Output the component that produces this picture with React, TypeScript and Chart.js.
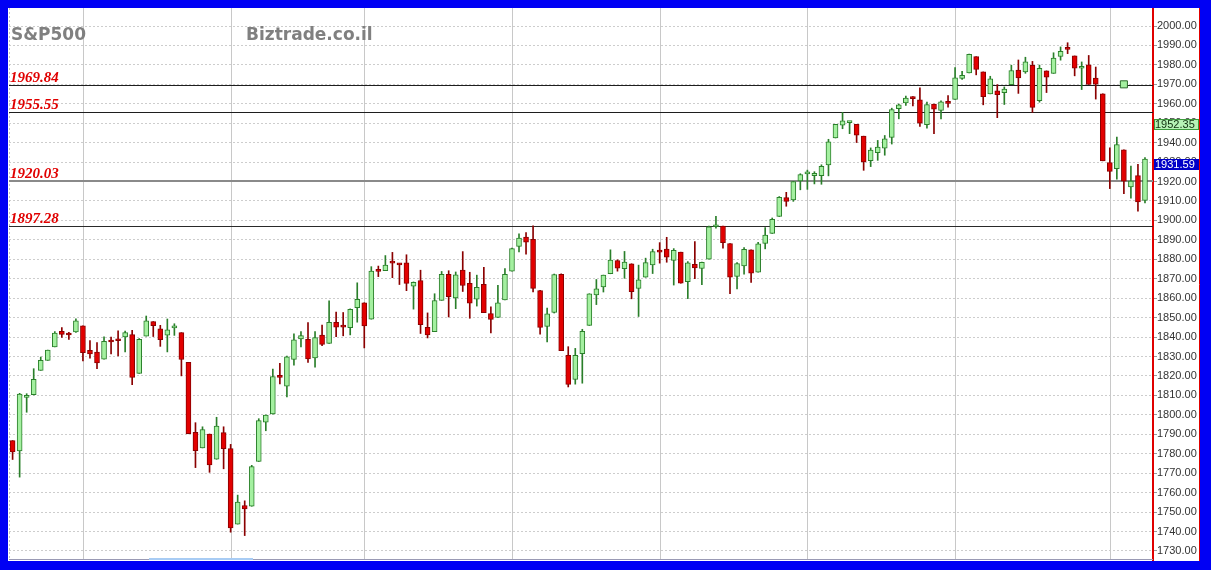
import React, { useEffect, useRef } from "react";
import { Chart, registerables } from "chart.js";

Chart.register(...registerables);

// ---- DATA (S&P500 daily candles) ----
const dates = [
  "2013-12-17","2013-12-18","2013-12-19","2013-12-20","2013-12-23","2013-12-24","2013-12-26","2013-12-27","2013-12-30","2013-12-31",
  "2014-01-02","2014-01-03","2014-01-06","2014-01-07","2014-01-08","2014-01-09","2014-01-10","2014-01-13","2014-01-14","2014-01-15","2014-01-16","2014-01-17","2014-01-21","2014-01-22","2014-01-23","2014-01-24","2014-01-27","2014-01-28","2014-01-29","2014-01-30","2014-01-31",
  "2014-02-03","2014-02-04","2014-02-05","2014-02-06","2014-02-07","2014-02-10","2014-02-11","2014-02-12","2014-02-13","2014-02-14","2014-02-18","2014-02-19","2014-02-20","2014-02-21","2014-02-24","2014-02-25","2014-02-26","2014-02-27","2014-02-28",
  "2014-03-03","2014-03-04","2014-03-05","2014-03-06","2014-03-07","2014-03-10","2014-03-11","2014-03-12","2014-03-13","2014-03-14","2014-03-17","2014-03-18","2014-03-19","2014-03-20","2014-03-21","2014-03-24","2014-03-25","2014-03-26","2014-03-27","2014-03-28","2014-03-31",
  "2014-04-01","2014-04-02","2014-04-03","2014-04-04","2014-04-07","2014-04-08","2014-04-09","2014-04-10","2014-04-11","2014-04-14","2014-04-15","2014-04-16","2014-04-17","2014-04-21","2014-04-22","2014-04-23","2014-04-24","2014-04-25","2014-04-28","2014-04-29","2014-04-30",
  "2014-05-01","2014-05-02","2014-05-05","2014-05-06","2014-05-07","2014-05-08","2014-05-09","2014-05-12","2014-05-13","2014-05-14","2014-05-15","2014-05-16","2014-05-19","2014-05-20","2014-05-21","2014-05-22","2014-05-23","2014-05-27","2014-05-28","2014-05-29","2014-05-30",
  "2014-06-02","2014-06-03","2014-06-04","2014-06-05","2014-06-06","2014-06-09","2014-06-10","2014-06-11","2014-06-12","2014-06-13","2014-06-16","2014-06-17","2014-06-18","2014-06-19","2014-06-20","2014-06-23","2014-06-24","2014-06-25","2014-06-26","2014-06-27","2014-06-30",
  "2014-07-01","2014-07-02","2014-07-03","2014-07-07","2014-07-08","2014-07-09","2014-07-10","2014-07-11","2014-07-14","2014-07-15","2014-07-16","2014-07-17","2014-07-18","2014-07-21","2014-07-22","2014-07-23","2014-07-24","2014-07-25","2014-07-28","2014-07-29","2014-07-30","2014-07-31",
  "2014-08-01","2014-08-04","2014-08-05","2014-08-06","2014-08-07","2014-08-08"
];

const opens = [
  1786.77,1781.46,1809.00,1810.39,1822.92,1828.02,1834.96,1842.97,1841.47,1842.61,
  1845.86,1833.21,1832.31,1828.71,1837.90,1839.00,1840.06,1841.26,1821.36,1840.52,1847.99,1844.23,1841.05,1844.71,1842.29,1826.96,1791.03,1783.00,1790.15,1777.17,1790.88,
  1782.68,1743.82,1753.38,1752.99,1776.01,1796.20,1800.45,1820.12,1814.82,1828.46,1839.03,1838.90,1829.24,1841.07,1836.78,1847.66,1845.79,1844.90,1855.12,
  1857.68,1849.23,1874.05,1874.18,1878.52,1877.86,1878.26,1866.15,1869.06,1845.07,1842.81,1858.92,1872.25,1860.09,1874.53,1867.67,1859.48,1867.09,1852.11,1850.07,1859.16,
  1873.96,1886.61,1891.43,1890.25,1863.92,1845.48,1852.64,1872.28,1830.65,1818.18,1831.45,1846.01,1861.73,1865.79,1872.57,1879.32,1875.24,1877.72,1865.00,1870.78,1877.10,
  1884.39,1885.30,1879.45,1883.69,1868.53,1877.39,1875.27,1880.03,1896.75,1897.13,1888.16,1871.19,1876.66,1884.88,1873.34,1888.19,1893.32,1902.01,1911.77,1910.60,1920.33,
  1923.87,1923.07,1923.06,1928.52,1942.41,1948.97,1950.34,1949.37,1943.35,1930.80,1934.84,1937.15,1942.73,1957.50,1960.45,1962.92,1961.97,1949.27,1959.89,1956.56,1960.79,
  1962.29,1973.06,1975.88,1984.22,1976.39,1965.10,1966.67,1965.76,1969.86,1977.36,1976.35,1979.75,1961.54,1976.93,1975.65,1984.30,1988.07,1984.60,1978.25,1980.03,1973.21,1965.14,
  1929.80,1926.62,1936.34,1917.29,1923.03,1910.35
];

const highs = [
  1786.77,1811.08,1810.88,1823.75,1829.75,1833.32,1842.84,1844.89,1842.47,1849.44,
  1845.86,1838.24,1837.16,1840.10,1840.02,1843.23,1843.15,1843.45,1839.26,1850.84,1847.99,1846.04,1849.31,1846.87,1842.29,1826.96,1795.98,1793.87,1790.15,1798.77,1793.88,
  1784.83,1758.73,1755.79,1774.06,1798.03,1799.94,1823.54,1826.55,1830.25,1841.65,1842.87,1847.50,1842.79,1846.13,1858.71,1852.91,1852.65,1854.53,1867.92,
  1857.68,1876.23,1876.53,1881.94,1883.57,1877.87,1882.35,1868.38,1874.40,1852.44,1862.30,1873.76,1874.14,1873.49,1883.97,1873.34,1871.87,1875.92,1855.55,1866.63,1875.18,
  1885.84,1893.17,1893.80,1897.28,1864.04,1854.95,1872.43,1872.53,1835.07,1834.19,1844.02,1862.31,1869.63,1871.89,1884.89,1879.75,1884.06,1877.72,1877.01,1880.60,1885.20,
  1888.59,1891.33,1885.51,1883.69,1878.83,1889.07,1878.57,1897.13,1902.17,1897.13,1888.16,1878.28,1886.00,1884.88,1888.80,1896.33,1901.26,1912.28,1914.46,1920.03,1924.03,
  1925.88,1925.07,1928.63,1941.74,1949.44,1955.55,1950.86,1949.37,1943.35,1937.30,1941.15,1943.69,1957.74,1959.87,1963.91,1963.74,1968.17,1960.83,1959.89,1961.47,1964.24,
  1978.58,1976.67,1985.59,1984.22,1976.39,1974.15,1969.84,1968.67,1979.85,1982.52,1983.94,1981.80,1979.91,1976.93,1986.24,1989.23,1991.39,1984.60,1981.52,1984.85,1978.90,1965.14,
  1937.35,1942.92,1936.34,1927.91,1928.89,1932.38
];

const lows = [
  1777.05,1767.99,1801.35,1810.25,1822.92,1828.02,1834.96,1839.81,1838.77,1842.41,
  1827.74,1829.13,1823.73,1828.71,1831.40,1830.38,1832.43,1815.52,1821.36,1840.52,1840.30,1835.23,1832.38,1840.88,1820.06,1790.29,1772.88,1783.00,1770.45,1777.17,1772.26,
  1739.66,1743.82,1737.92,1752.99,1776.01,1791.83,1800.41,1815.97,1809.22,1825.59,1835.01,1826.99,1824.58,1835.60,1836.78,1840.19,1840.66,1841.13,1847.67,
  1834.44,1849.23,1871.11,1874.18,1870.56,1867.04,1863.88,1854.38,1841.86,1839.57,1842.81,1858.92,1850.35,1854.63,1863.46,1849.69,1855.96,1852.56,1842.11,1850.07,1859.16,
  1873.96,1883.79,1882.65,1863.26,1841.48,1837.49,1852.38,1833.08,1814.36,1815.80,1816.29,1846.01,1856.72,1863.18,1872.57,1873.91,1870.24,1859.70,1850.61,1870.78,1872.69,
  1878.04,1878.50,1866.77,1867.72,1859.79,1870.05,1867.02,1880.03,1896.06,1885.77,1862.36,1864.82,1872.42,1868.14,1873.34,1885.39,1893.32,1902.01,1907.30,1909.82,1915.75,
  1915.98,1918.79,1918.60,1922.93,1942.41,1947.16,1944.64,1940.08,1925.78,1927.69,1930.91,1933.55,1939.29,1952.26,1959.17,1958.89,1948.34,1947.49,1944.69,1952.18,1958.22,
  1962.29,1972.58,1975.88,1974.88,1959.46,1965.10,1952.86,1959.63,1969.86,1965.34,1975.67,1955.59,1960.82,1965.77,1975.65,1982.44,1985.79,1974.37,1967.31,1969.95,1962.42,1930.67,
  1916.37,1921.20,1913.77,1911.45,1904.78,1909.01
];

const closes = [
  1781.00,1810.65,1809.60,1818.32,1827.99,1833.32,1842.02,1841.40,1841.07,1848.36,
  1831.98,1831.37,1826.77,1837.88,1837.49,1838.13,1842.37,1819.20,1838.88,1848.38,1845.89,1838.70,1843.80,1844.86,1828.46,1790.29,1781.56,1792.50,1774.20,1794.19,1782.59,
  1741.89,1755.20,1751.64,1773.43,1797.02,1799.84,1819.75,1819.26,1829.83,1838.63,1840.76,1828.75,1839.78,1836.25,1847.61,1845.12,1845.16,1854.29,1859.45,
  1845.73,1873.91,1873.81,1877.03,1878.04,1877.17,1867.63,1868.20,1846.34,1841.13,1858.83,1872.25,1860.77,1872.01,1866.52,1857.44,1865.62,1852.56,1849.04,1857.62,1872.34,
  1885.52,1890.90,1888.77,1865.09,1845.04,1851.96,1872.18,1833.08,1815.69,1830.61,1842.98,1862.31,1864.85,1871.89,1879.55,1875.39,1878.61,1863.40,1869.43,1878.33,1883.95,
  1883.68,1881.14,1884.66,1867.72,1878.21,1875.63,1878.48,1896.65,1897.45,1888.53,1870.85,1877.86,1885.08,1872.83,1888.03,1892.49,1900.53,1911.91,1909.78,1920.03,1923.57,
  1924.97,1924.24,1927.88,1940.46,1949.44,1951.27,1950.79,1943.89,1930.11,1936.16,1937.78,1941.99,1956.98,1959.48,1962.87,1962.61,1949.98,1959.53,1957.22,1960.96,1960.23,
  1973.32,1974.62,1985.44,1977.65,1963.71,1972.83,1964.68,1967.57,1977.10,1973.28,1981.57,1958.12,1978.22,1973.63,1983.53,1987.01,1987.98,1978.34,1978.91,1969.95,1970.07,1930.67,
  1925.15,1938.99,1920.21,1920.24,1909.57,1931.59
];

// horizontal level lines and their labels
const levelValues = [1969.84, 1955.55, 1920.03, 1897.28];
// first trading day of each month (vertical grid lines)
const monthStarts = ["2014-01-02","2014-02-03","2014-03-03","2014-04-01","2014-05-01","2014-06-02","2014-07-01","2014-08-01"];
// right-axis flags
const indicatorValue = 1952.35;
const lastValue = closes[closes.length - 1];
// small marker on the top level line
const markerDate = "2014-08-05";
const markerValue = 1970;
// axis ranges
const yMin = 1725.36;
const yMax = 2009.26;
const yStep = 10;
const xMin = -0.512;
const xMax = 162.14;
const titleText = "S&P500";
const siteText = "Biztrade.co.il";

// ---- styles ----
const levelLineColors = ["#1e1e1e", "#1e1e1e", "#8a8a8a", "#2a2a2a"];
const levelLineWidths = [1, 1, 2, 1];
const BULL_FILL = "#a4f0a0";
const BULL_EDGE = "#2a7f2a";
const BEAR_FILL = "#e20000";
const BEAR_EDGE = "#8a0000";

const isBull = (i: number) => closes[i] >= opens[i];

const overlayPlugin = {
  id: "overlay",
  beforeDatasetsDraw(chart: any) {
    const { ctx, chartArea, scales } = chart;
    const { left, right, top, bottom } = chartArea;
    const x = scales.x;
    const y = scales.y;
    ctx.save();
    // left edge dotted line
    ctx.strokeStyle = "#c4c4c4";
    ctx.lineWidth = 1;
    ctx.setLineDash([2, 2]);
    ctx.beginPath();
    ctx.moveTo(left + 0.5, top);
    ctx.lineTo(left + 0.5, bottom);
    ctx.stroke();
    ctx.setLineDash([]);
    // month separators
    ctx.strokeStyle = "#c8c8c8";
    monthStarts.forEach((d) => {
      const px = Math.round(x.getPixelForValue(dates.indexOf(d))) + 0.5;
      ctx.beginPath();
      ctx.moveTo(px, top);
      ctx.lineTo(px, bottom);
      ctx.stroke();
    });
    // level lines
    levelValues.forEach((v, k) => {
      const w = levelLineWidths[k];
      const py = Math.round(y.getPixelForValue(v)) + (w % 2 ? 0.5 : 0);
      ctx.strokeStyle = levelLineColors[k];
      ctx.lineWidth = w;
      ctx.beginPath();
      ctx.moveTo(left, py);
      ctx.lineTo(right, py);
      ctx.stroke();
    });
    // bottom edge
    ctx.lineWidth = 1;
    ctx.strokeStyle = "#9a9ab4";
    ctx.beginPath();
    ctx.moveTo(left, bottom - 0.5);
    ctx.lineTo(right, bottom - 0.5);
    ctx.stroke();
    ctx.strokeStyle = "#a8ccf4";
    ctx.lineWidth = 2;
    ctx.beginPath();
    ctx.moveTo(141, bottom - 1);
    ctx.lineTo(245, bottom - 1);
    ctx.stroke();
    ctx.restore();
  },
  afterDatasetsDraw(chart: any) {
    const { ctx, scales } = chart;
    const y = scales.y;
    ctx.save();
    // level labels
    ctx.font = 'bold italic 15px "Liberation Serif", "DejaVu Serif", serif';
    ctx.fillStyle = "#e00000";
    ctx.textBaseline = "alphabetic";
    ctx.textAlign = "left";
    levelValues.forEach((v) => {
      const py = y.getPixelForValue(v);
      ctx.fillText(v.toFixed(2), 2, py - 3);
    });
    // titles
    ctx.font = 'bold 17px "DejaVu Sans", Verdana, sans-serif';
    ctx.fillStyle = "#808080";
    ctx.textBaseline = "middle";
    ctx.fillText(titleText, 3, 28);
    ctx.fillText(siteText, 238, 28);
    ctx.restore();
  },
  afterDraw(chart: any) {
    const { ctx, chartArea, scales, width, height } = chart;
    const y = scales.y;
    ctx.save();
    const bx = chartArea.right + 1;
    const bw = width - bx - 1;
    const drawFlag = (v: number, fill: string, edge: string, textColor: string) => {
      const top = Math.round(y.getPixelForValue(v));
      ctx.fillStyle = fill;
      ctx.fillRect(bx, top, bw, 11);
      ctx.strokeStyle = edge;
      ctx.lineWidth = 1;
      ctx.strokeRect(bx + 0.5, top + 0.5, bw - 1, 10);
      ctx.fillStyle = textColor;
      ctx.font = '11px "Liberation Sans", Arial, sans-serif';
      ctx.textBaseline = "middle";
      ctx.textAlign = "left";
      ctx.fillText(v.toFixed(2), bx + 1, top + 6);
    };
    drawFlag(indicatorValue, "#b6f2b6", "#3c9a3c", "#103010");
    drawFlag(lastValue, "#0000c8", "#0000c8", "#ffffff");
    // outer right edge
    ctx.strokeStyle = "#e00000";
    ctx.lineWidth = 1;
    ctx.beginPath();
    ctx.moveTo(width - 0.5, 0);
    ctx.lineTo(width - 0.5, height);
    ctx.stroke();
    ctx.restore();
  },
};

export default function App() {
  const canvasRef = useRef<HTMLCanvasElement | null>(null);

  useEffect(() => {
    const canvas = canvasRef.current;
    if (!canvas) return;
    const idx = dates.map((_, i) => i);
    const chart = new Chart(canvas, {
      type: "bar",
      data: {
        datasets: [
          {
            type: "line",
            data: [{ x: dates.indexOf(markerDate), y: markerValue }],
            showLine: false,
            pointStyle: "rect",
            pointRadius: 5,
            backgroundColor: "#a4f0a0",
            borderColor: "#2a6a2a",
            borderWidth: 1,
            clip: false,
            order: 0,
          } as any,
          {
            type: "bar",
            data: idx.map((i) => ({ x: i, y: [Math.min(opens[i], closes[i]), Math.max(opens[i], closes[i])] })),
            backgroundColor: idx.map((i) => (isBull(i) ? BULL_FILL : BEAR_FILL)),
            borderColor: idx.map((i) => (isBull(i) ? BULL_EDGE : BEAR_EDGE)),
            borderWidth: 1,
            borderSkipped: false,
            barThickness: 5,
            minBarLength: 2,
            grouped: false,
            order: 1,
          } as any,
          {
            type: "bar",
            data: idx.map((i) => ({ x: i, y: [lows[i], highs[i]] })),
            backgroundColor: idx.map((i) => (isBull(i) ? BULL_EDGE : BEAR_EDGE)),
            borderWidth: 0,
            barThickness: 1,
            grouped: false,
            order: 2,
          } as any,
        ],
      },
      options: {
        animation: false,
        responsive: false,
        maintainAspectRatio: false,
        layout: { autoPadding: false, padding: { left: 1, top: 0, right: 0, bottom: 1 } },
        plugins: { legend: { display: false }, tooltip: { enabled: false } },
        scales: {
          x: { type: "linear", display: false, offset: false, grace: 0, bounds: "data", min: xMin, max: xMax },
          y: {
            position: "right",
            min: yMin,
            max: yMax,
            ticks: {
              stepSize: yStep,
              includeBounds: false,
              padding: 0,
              color: "#333333",
              font: { family: '"Liberation Sans", Arial, sans-serif', size: 11 },
              callback: (v: any) => Number(v).toFixed(2),
            },
            grid: { color: "#cdcdcd", tickLength: 4, tickColor: "#9a9a9a" },
            border: { display: true, color: "#e00000", width: 2, dash: [2, 2] },
            afterFit: (s: any) => {
              s.width = 47;
              s.paddingTop = 0;
              s.paddingBottom = 0;
            },
          } as any,
        },
      } as any,
      plugins: [overlayPlugin],
    });
    return () => chart.destroy();
  }, []);

  return (
    <div style={{ position: "fixed", left: 0, top: 0, width: 1211, height: 570, background: "#0000f4" }}>
      <canvas
        ref={canvasRef}
        width={1192}
        height={553}
        style={{ position: "absolute", left: 8, top: 8, width: 1192, height: 553, background: "#ffffff" }}
      />
    </div>
  );
}
